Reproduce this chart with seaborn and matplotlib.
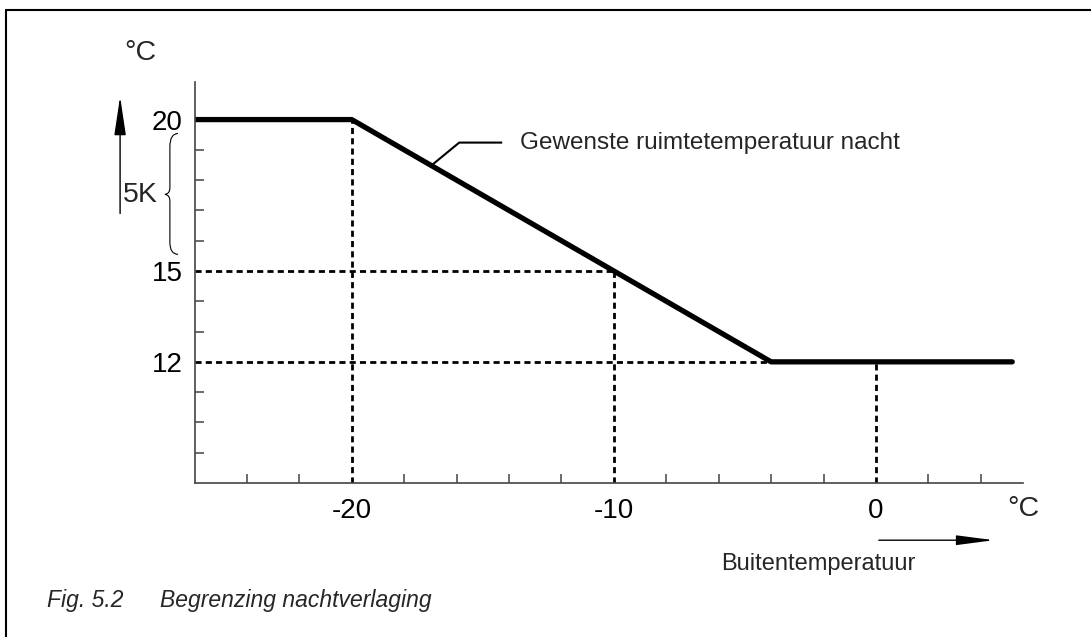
import matplotlib
matplotlib.use("Agg")
from matplotlib import pyplot as plt
from matplotlib.lines import Line2D
from matplotlib.path import Path
from matplotlib.patches import PathPatch
import seaborn as sns
import pandas as pd

# curve: desired room temperature at night vs outside temperature
outside_temp = [-26, -20, -4, 5.2]
room_temp = [20, 20, 12, 12]

# dotted guide lines (x on the outside axis, y where they meet the curve)
guide_x = [-20, -10, 0]
guide_x_top = [20, 15, 12]
guide_y = [15, 12]
guide_y_end = [-10, -4]

x_labels = [-20, -10, 0]
y_labels = [20, 15, 12]
x_minor = [-24, -22, -18, -16, -14, -12, -8, -6, -4, -2, 2, 4]
y_minor = [9, 10, 11, 13, 14, 16, 17, 18, 19]

sns.set_style("white")
plt.rcParams["font.family"] = ["Liberation Sans", "DejaVu Sans"]

fig = plt.figure(figsize=(10.91, 6.37), dpi=100)
ax = fig.add_axes([0.1783, 0.2418, 0.7591, 0.6299])

data = pd.DataFrame({"outside": outside_temp, "room": room_temp})
sns.lineplot(x="outside", y="room", data=data, ax=ax, color="black",
             linewidth=3.8, sort=False)

dash = dict(color="black", linewidth=2.0, linestyle=(0, (2.2, 1.5)), zorder=1)
for gx, top in zip(guide_x, guide_x_top):
    ax.plot([gx, gx], [8, top], **dash)
for gy, end in zip(guide_y, guide_y_end):
    ax.plot([-26, end], [gy, gy], **dash)

ax.set_xlim(-26, 5.6)
ax.set_ylim(8, 21.25)
ax.set_xlabel("")
ax.set_ylabel("")

for side in ["top", "right"]:
    ax.spines[side].set_visible(False)
for side in ["left", "bottom"]:
    ax.spines[side].set_color("#444444")
    ax.spines[side].set_linewidth(1.2)

ax.set_xticks(x_labels)
ax.set_xticklabels([str(v) for v in x_labels])
ax.set_yticks(y_labels)
ax.set_yticklabels([str(v) for v in y_labels])
ax.set_xticks(x_minor, minor=True)
ax.set_yticks(y_minor, minor=True)
ax.tick_params(which="major", length=0, labelsize=20, colors="black")
ax.tick_params(axis="x", which="major", pad=10.5)
ax.tick_params(axis="y", which="major", pad=8.5)
ax.tick_params(which="minor", direction="in", length=6.5, width=1.1,
               color="#444444", bottom=True, left=True)

# leader line to the curve label
ax.plot([-16.94, -15.9, -14.26], [18.5, 19.24, 19.24], color="black",
        linewidth=1.5, solid_capstyle="butt")
ax.text(-13.6, 19.24, "Gewenste ruimtetemperatuur nacht", fontsize=17.5,
        va="center", ha="left")

# y axis unit, arrow and 5K brace
ax.text(-28.07, 22.2, "°C", fontsize=20.5, ha="center", va="center")
ax.annotate("", xy=(-28.84, 20.76), xytext=(-28.84, 16.9),
            arrowprops=dict(arrowstyle="-|>,head_length=2.4,head_width=0.36",
                            color="black", lw=1.0, shrinkA=0, shrinkB=0),
            annotation_clip=False)
ax.text(-28.72, 17.52, "5K", fontsize=20.5, ha="left", va="center")
verts = [(-26.63, 19.54), (-26.94, 19.54), (-26.94, 19.1),
         (-26.94, 17.75),
         (-26.94, 17.55), (-27.13, 17.53),
         (-26.94, 17.51), (-26.94, 17.31),
         (-26.94, 15.95),
         (-26.94, 15.55), (-26.63, 15.55)]
codes = [Path.MOVETO, Path.CURVE3, Path.CURVE3, Path.LINETO,
         Path.CURVE3, Path.CURVE3, Path.CURVE3, Path.CURVE3,
         Path.LINETO, Path.CURVE3, Path.CURVE3]
ax.add_patch(PathPatch(Path(verts, codes), facecolor="none", edgecolor="black",
                       linewidth=0.8, clip_on=False))

# x axis unit, arrow and label
ax.text(5.0, 7.13, "°C", fontsize=20.5, ha="left", va="center")
ax.annotate("", xy=(4.5, 6.11), xytext=(0.11, 6.11),
            arrowprops=dict(arrowstyle="-|>,head_length=2.3,head_width=0.3",
                            color="black", lw=1.0, shrinkA=0, shrinkB=0),
            annotation_clip=False)
ax.text(-2.2, 5.31, "Buitentemperatuur", fontsize=17, ha="center", va="center")

# frame lines of the page and caption
fig.add_artist(Line2D([6 / 1091, 1], [1 - 10 / 637, 1 - 10 / 637],
                      color="black", linewidth=1.5))
fig.add_artist(Line2D([6 / 1091, 6 / 1091], [0, 1 - 10 / 637],
                      color="black", linewidth=1.5))
fig.text(0.043, 0.058, "Fig. 5.2", fontsize=16.5, style="italic", va="center")
fig.text(0.1467, 0.058, "Begrenzing nachtverlaging", fontsize=16.5,
         style="italic", va="center")

plt.savefig("out.png", dpi=100)
